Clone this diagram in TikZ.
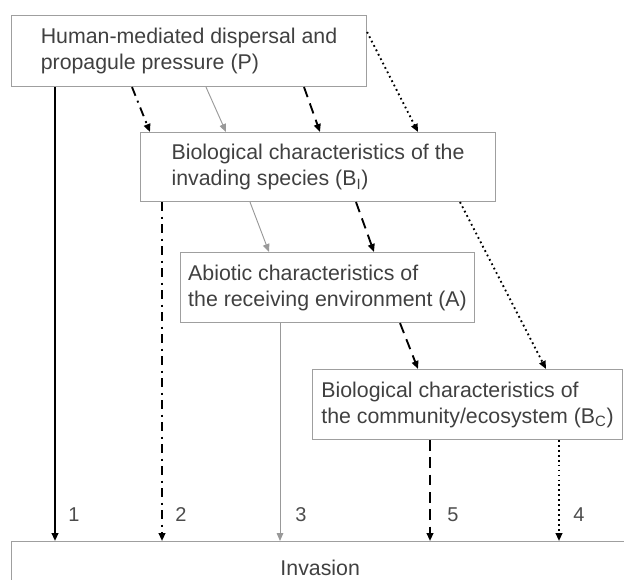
\documentclass[tikz,border=0pt]{standalone}
\usepackage{fontspec}
\setmainfont{Liberation Sans}
\usetikzlibrary{arrows.meta}

\tikzset{
  box/.style={draw=gray!75, line width=0.8pt, anchor=north west, align=left,
    text=black!75, font=\fontsize{16}{19.5}\selectfont},
  num/.style={text=black!70, font=\fontsize{15}{18}\selectfont},
  tip/.style={-{Triangle[length=6pt,width=5pt]}},
  path1/.style={tip, line width=1.4pt, black},
  path2/.style={tip, line width=1.4pt, black, dash pattern=on 7pt off 4pt on 1.5pt off 4pt},
  path3/.style={tip, line width=0.7pt, gray!80},
  path4/.style={tip, line width=1.4pt, black, dash pattern=on 1.3pt off 2.4pt},
  path5/.style={tip, line width=1.4pt, black, dash pattern=on 8pt off 5pt}
}

\begin{document}
\begin{tikzpicture}[x=0.75pt, y=-0.75pt]
\useasboundingbox (0, 0) rectangle (624, 580);
\clip (0, 0) rectangle (624, 580);
\node [box, minimum width=266.25pt, minimum height=53.25pt] (P) at (11, 15)
  {Human-mediated dispersal and\\propagule pressure (P)};
\node [box, minimum width=266.25pt, minimum height=51.75pt] (Bi) at (140, 132)
  {Biological characteristics of the\\invading species (B\textsubscript{I})};
\node [box, minimum width=220.5pt, minimum height=52.5pt] (A) at (180, 252)
  {Abiotic characteristics of\\the receiving environment (A)};
\node [box, minimum width=232.5pt, minimum height=52.5pt] (Bc) at (312, 369)
  {Biological characteristics of\\the community/ecosystem (B\textsubscript{C})};
\node [box, minimum width=480pt, minimum height=40pt, align=center] (Inv) at (11, 541)
  {\hspace*{-17pt}Invasion};
\draw [path1] (P.south -| 55, 0) -- (Inv.north -| 55, 0);
\draw [path2] (P.south -| 132, 0) -- (Bi.north -| 150, 0);
\draw [path2] (Bi.south -| 162, 0) -- (Inv.north -| 162, 0);
\draw [path3] (P.south -| 206, 0) -- (Bi.north -| 226, 0);
\draw [path3] (Bi.south -| 250, 0) -- (A.north -| 269, 0);
\draw [path3] (A.south -| 280, 0) -- (Inv.north -| 280, 0);
\draw [path5] (P.south -| 304, 0) -- (Bi.north -| 320, 0);
\draw [path5] (Bi.south -| 356, 0) -- (A.north -| 374, 0);
\draw [path5] (A.south -| 400, 0) -- (Bc.north -| 418, 0);
\draw [path5] (Bc.south -| 430, 0) -- (Inv.north -| 430, 0);
\draw [path4] (P.east |- 0, 32) -- (Bi.north -| 418, 0);
\draw [path4] (Bi.south -| 460, 0) -- (Bc.north -| 546, 0);
\draw [path4] (Bc.south -| 559, 0) -- (Inv.north -| 559, 0);
\node [num] (n1) at (74, 515) {1};
\node [num] (n2) at (181, 515) {2};
\node [num] (n3) at (301, 515) {3};
\node [num] (n5) at (453, 515) {5};
\node [num] (n4) at (579, 515) {4};
\end{tikzpicture}
\end{document}
